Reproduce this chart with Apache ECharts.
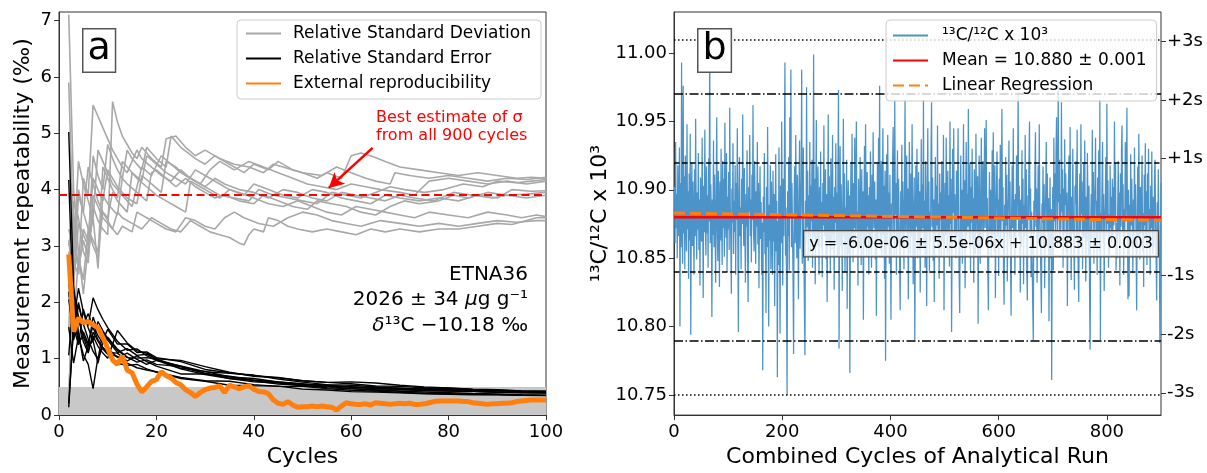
<!DOCTYPE html>
<html><head><meta charset="utf-8">
<script src="https://cdn.jsdelivr.net/npm/echarts@6/dist/echarts.min.js"></script>
<style>html,body{margin:0;padding:0;background:#fff}#chart{width:1207px;height:473px}</style>
</head><body><div id="chart"></div>
<script>
// ---------------- Panel a data ----------------
const X_TICKS_A = [0, 20, 40, 60, 80, 100];
const Y_TICKS_A = [0, 1, 2, 3, 4, 5, 6, 7];
const SIGMA_BEST = 3.9;
const SHADE_TOP = 0.5;
const ARROW_FROM = [64.4, 4.74];
const ARROW_TO = [55.4, 4.03];

const RSD_1 = [[2,7.1],[3,4.0],[4,2.9],[5,2.15],[6,3.0],[7,4.6],[8,4.25],[9,4.0],[10,4.8],[11,4.55],[12,4.35],[13,4.2],[14,4.7],[15,4.55],[17,4.35],[18,4.75],[20,4.55],[22,4.4],[23,4.95],[25,4.75],[28,4.55],[30,4.45],[32,4.6],[35,4.45],[38,4.3],[40,4.45],[43,4.35],[45,4.5],[48,4.35],[50,4.3],[53,4.2],[55,4.3],[58,4.2],[60,4.6],[62,4.65],[64,4.6],[67,4.5],[70,4.4],[74,4.35],[78,4.3],[82,4.25],[86,4.3],[90,4.25],[94,4.2],[97,4.22],[100,4.2]];
const RSD_2 = [[2,5.9],[3,3.0],[4,2.6],[5,3.1],[6,2.8],[7,3.7],[8,3.45],[9,3.3],[10,3.2],[11,5.56],[12,5.2],[13,4.95],[14,4.8],[15,4.65],[16,4.55],[17,4.75],[19,4.55],[21,4.4],[22,4.9],[24,4.95],[26,4.75],[28,4.6],[30,4.7],[33,4.55],[36,4.45],[39,4.4],[42,4.3],[44,4.45],[46,4.4],[50,4.3],[54,4.25],[57,4.4],[60,4.3],[63,4.2],[65,4.15],[68,4.1],[69,4.3],[72,4.25],[76,4.2],[80,4.25],[84,4.2],[88,4.15],[92,4.2],[96,4.18],[100,4.22]];
const RSD_3 = [[2,3.0],[3,3.6],[4,2.5],[5,4.2],[6,3.9],[7,5.5],[8,5.3],[9,5.1],[10,4.9],[11,4.7],[12,4.55],[13,4.4],[14,4.3],[15,4.5],[16,4.7],[17,4.55],[19,4.4],[21,4.25],[23,4.15],[25,4.35],[27,4.2],[29,4.1],[31,4.35],[33,4.5],[36,4.35],[39,4.5],[42,4.4],[45,4.3],[48,4.2],[51,4.1],[54,4.05],[57,4.0],[60,4.1],[63,4.05],[66,4.0],[70,3.95],[73,3.9],[76,4.15],[80,4.2],[84,4.15],[88,4.1],[92,4.15],[96,4.1],[100,4.15]];
const RSD_4 = [[2,0.2],[3,2.8],[4,4.0],[5,3.6],[6,3.3],[7,3.0],[8,2.8],[9,4.4],[10,4.2],[11,4.0],[12,3.85],[13,4.5],[15,4.3],[17,4.15],[18,4.6],[20,4.45],[22,4.3],[24,4.2],[26,4.1],[28,4.35],[30,4.25],[33,4.1],[35,4.0],[38,3.9],[40,4.1],[43,4.0],[46,3.9],[49,3.85],[52,4.0],[55,3.95],[58,3.85],[61,3.8],[64,3.75],[67,3.9],[70,3.85],[74,3.8],[78,3.85],[82,3.8],[86,3.9],[90,3.85],[93,4.0],[97,3.97],[100,3.98]];
const RSD_5 = [[2,3.1],[3,2.3],[4,3.4],[5,3.2],[6,3.0],[7,3.5],[8,2.6],[9,3.9],[10,3.75],[12,3.55],[13,4.2],[14,4.1],[16,3.95],[18,3.8],[19,4.3],[20,4.35],[22,4.2],[24,4.05],[26,4.2],[28,4.05],[30,3.95],[32,3.85],[34,3.9],[37,3.8],[40,3.75],[42,3.9],[45,3.8],[48,3.7],[51,3.65],[53,3.8],[56,3.75],[59,3.7],[62,3.6],[65,3.55],[68,3.7],[71,3.8],[74,3.75],[78,3.8],[81,3.9],[84,3.85],[88,3.95],[92,3.9],[96,3.92],[100,3.95]];
const RSD_6 = [[2,2.2],[3,1.6],[4,2.8],[5,2.4],[6,3.3],[7,3.1],[8,2.9],[9,3.6],[10,3.45],[11,3.3],[12,3.6],[13,3.5],[15,3.4],[17,3.3],[19,3.5],[21,3.4],[23,3.3],[25,3.25],[27,3.45],[29,3.35],[31,3.25],[33,3.2],[35,3.15],[37,3.05],[38,3.02],[39,3.2],[40,3.3],[42,3.25],[43,3.5],[45,3.45],[47,3.35],[49,3.3],[52,3.25],[55,3.3],[58,3.25],[61,3.2],[64,3.3],[67,3.25],[70,3.3],[74,3.25],[78,3.3],[82,3.3],[86,3.35],[90,3.4],[93,3.38],[96,3.45],[98,3.5],[100,3.5]];
const RSD_7 = [[2,1.5],[3,3.8],[4,3.5],[5,2.9],[6,2.7],[7,3.9],[8,3.7],[9,3.5],[10,3.4],[11,3.3],[12,3.2],[13,3.35],[15,3.25],[16,3.6],[18,3.5],[20,3.4],[22,3.3],[24,3.25],[26,3.5],[28,3.45],[30,3.35],[32,3.3],[34,3.5],[36,3.6],[38,3.5],[41,3.4],[44,3.35],[47,3.5],[50,3.6],[53,3.55],[56,3.45],[59,3.4],[62,3.35],[66,3.45],[70,3.4],[74,3.35],[78,3.4],[82,3.35],[86,3.4],[90,3.45],[94,3.42],[98,3.45],[100,3.45]];
const RSD_8 = [[2,2.9],[3,2.4],[4,3.9],[5,3.6],[6,4.4],[7,4.1],[8,3.8],[9,3.6],[10,3.5],[11,3.95],[12,3.8],[14,3.6],[15,4.3],[16,4.2],[18,4.05],[20,3.9],[22,3.8],[24,3.7],[26,3.6],[27,4.15],[29,4.05],[31,3.95],[33,3.85],[35,4.0],[37,3.95],[40,3.85],[43,3.75],[46,3.7],[49,3.8],[52,3.7],[55,3.6],[58,3.55],[61,3.7],[64,3.65],[67,3.6],[70,3.55],[73,3.5],[76,3.6],[80,3.55],[84,3.5],[88,3.6],[92,3.55],[95,3.5],[98,3.55],[100,3.52]];
const RSD_9 = [[2,0.3],[3,2.7],[4,2.5],[5,3.3],[6,3.1],[7,4.2],[8,4.0],[9,3.8],[10,4.35],[11,4.2],[12,4.05],[13,3.95],[14,3.85],[16,3.75],[17,4.25],[19,4.1],[21,3.95],[22,4.5],[24,4.4],[26,4.25],[28,4.15],[30,4.05],[32,4.2],[34,4.1],[37,4.0],[40,3.95],[43,3.85],[46,4.0],[49,3.95],[52,3.85],[55,3.8],[58,3.95],[61,3.9],[64,3.85],[67,3.8],[70,3.9],[73,3.85],[77,3.8],[81,3.95],[85,3.9],[89,3.85],[92,3.9],[96,3.85],[100,3.9]];
const RSD_10 = [[2,3.3],[3,2.9],[4,4.5],[5,4.1],[6,3.8],[7,3.5],[8,4.7],[9,4.5],[10,4.3],[11,4.1],[12,4.0],[13,3.9],[14,3.8],[15,3.7],[17,4.4],[19,4.25],[21,4.6],[23,4.45],[25,4.3],[27,4.2],[29,4.1],[31,4.0],[33,3.9],[36,3.85],[39,3.8],[41,4.0],[44,3.9],[47,3.85],[50,3.8],[53,3.75],[56,3.95],[59,3.9],[62,3.85],[65,3.95],[68,4.05],[71,4.0],[75,3.95],[79,4.0],[83,4.1],[87,4.05],[90,4.15],[94,4.12],[97,4.15],[100,4.18]];

const RSE_CYCLES = [2,3,4,5,6,7,8,9,10,12,14,16,18,20,25,30,35,40,45,50,55,60,65,70,75,80,85,90,95,100];
const RSE_1 = [5.02,2.31,1.45,0.96,1.22,1.74,1.50,1.33,1.52,1.26,1.26,1.11,1.12,1.02,0.95,0.81,0.75,0.70,0.67,0.61,0.58,0.59,0.57,0.53,0.50,0.48,0.46,0.45,0.43,0.42];
const RSE_2 = [4.17,1.73,1.30,1.39,1.14,1.40,1.22,1.10,1.01,1.50,1.28,1.14,1.10,1.00,0.97,0.86,0.76,0.69,0.66,0.61,0.58,0.555,0.515,0.51,0.486,0.475,0.454,0.44,0.43,0.422];
const RSE_3 = [2.12,2.08,1.25,1.88,1.59,2.08,1.87,1.70,1.55,1.31,1.15,1.175,1.055,0.97,0.87,0.77,0.74,0.71,0.64,0.585,0.54,0.53,0.50,0.47,0.47,0.47,0.45,0.434,0.42,0.415];
const RSE_4 = [0.14,1.62,2.0,1.61,1.35,1.13,0.99,1.47,1.33,1.11,1.18,1.06,1.08,0.995,0.83,0.776,0.676,0.648,0.586,0.55,0.533,0.493,0.471,0.46,0.44,0.427,0.42,0.406,0.41,0.398];
const RSE_5 = [2.19,1.33,1.70,1.43,1.22,1.32,0.92,1.30,1.19,1.02,1.10,0.99,0.90,0.97,0.82,0.72,0.65,0.59,0.57,0.52,0.51,0.47,0.44,0.45,0.434,0.43,0.42,0.41,0.40,0.395];
const RSE_6 = [1.56,0.92,1.40,1.07,0.90,0.47,1.03,1.2,1.09,1.04,0.92,0.84,0.80,0.77,0.65,0.60,0.53,0.52,0.514,0.46,0.445,0.416,0.41,0.394,0.376,0.369,0.362,0.358,0.352,0.35];
const RSE_7 = [1.06,2.19,1.75,1.30,1.10,1.47,1.31,1.17,1.08,0.92,0.88,0.90,0.82,0.76,0.67,0.61,0.60,0.54,0.51,0.51,0.47,0.44,0.425,0.406,0.388,0.378,0.367,0.364,0.352,0.345];
const RSE_8 = [2.05,1.39,1.95,1.61,1.80,1.55,1.34,1.2,1.11,1.10,0.96,1.05,0.95,0.87,0.73,0.73,0.68,0.61,0.55,0.53,0.485,0.47,0.45,0.424,0.41,0.397,0.382,0.376,0.36,0.352];
const RSE_9 = [0.21,1.56,1.25,1.48,1.27,1.59,1.41,1.27,1.38,1.17,1.03,0.94,0.98,0.90,0.86,0.74,0.69,0.62,0.59,0.555,0.51,0.505,0.474,0.466,0.44,0.437,0.423,0.408,0.396,0.39];
const RSE_10 = [2.33,1.67,2.25,1.83,1.55,1.32,1.66,1.5,1.36,1.15,1.02,1.01,1.02,0.99,0.86,0.74,0.65,0.62,0.58,0.54,0.52,0.50,0.49,0.48,0.456,0.45,0.44,0.437,0.424,0.418];

const EXT_CYCLES = [2,3,4,5,6,7,8,9,10,11,12,13,14,15,16,17,18,19,20,21,22,23,24,25,26,27,28,29,30,31,32,33,34,35,36,37,38,39,40,41,42,43,44,45,46,47,48,49,50,51,52,53,54,55,56,57,58,59,60,61,62,63,64,65,66,67,68,69,70,71,72,73,74,75,76,77,78,79,80,81,82,83,84,85,86,87,88,89,90,91,92,93,94,95,96,97,98,99,100];
const EXT_VALUES = [2.85,1.48,1.72,1.64,1.66,1.60,1.55,1.38,1.18,0.98,0.90,1.05,0.80,0.75,0.55,0.41,0.50,0.60,0.63,0.77,0.70,0.66,0.58,0.54,0.45,0.40,0.33,0.40,0.45,0.48,0.49,0.52,0.40,0.53,0.50,0.47,0.50,0.52,0.46,0.42,0.41,0.38,0.27,0.21,0.19,0.24,0.18,0.14,0.15,0.15,0.16,0.15,0.16,0.15,0.14,0.09,0.16,0.22,0.20,0.19,0.19,0.20,0.18,0.22,0.21,0.20,0.19,0.20,0.21,0.20,0.21,0.19,0.19,0.20,0.22,0.24,0.25,0.25,0.25,0.25,0.25,0.24,0.24,0.22,0.21,0.20,0.19,0.20,0.20,0.21,0.21,0.22,0.24,0.25,0.26,0.27,0.27,0.27,0.27];

// ---------------- Panel b data ----------------
const X_TICKS_B = [0, 200, 400, 600, 800];
const Y_TICKS_B = [10.75, 10.80, 10.85, 10.90, 10.95, 11.00];
const RATIO_MEAN = 10.880;
const REG_START = 10.883;
const REG_END = 10.8776;
const S_VALUES = [11.0084, 10.9656, 10.9228, 10.8372, 10.7944, 10.7516];
const S_LABELS = ['+3s', '+2s', '+1s', '-1s', '-2s', '-3s'];
const RATIO = [
10.902,10.861,10.935,10.872,10.897,10.850,10.918,10.866,10.889,10.931,10.800,10.905,10.858,10.993,10.874,10.846,10.976,10.868,10.910,10.842,10.925,10.884,10.855,10.948,10.871,10.899,10.835,10.912,10.863,10.941,
10.794,10.887,10.920,10.859,10.906,10.874,10.838,10.915,10.866,10.952,10.881,10.849,10.898,10.871,10.927,10.856,10.893,10.830,10.909,10.878,10.862,10.938,10.884,10.821,10.903,10.869,10.944,10.875,10.852,10.917,
10.868,10.896,10.843,10.923,10.877,11.015,10.861,10.904,10.882,10.807,10.893,10.867,10.936,10.858,10.911,10.874,10.832,10.899,10.953,10.870,10.848,10.914,10.886,10.829,10.906,10.863,10.930,10.879,10.845,10.921,
10.872,10.908,10.851,10.949,10.883,10.865,10.927,10.840,10.895,10.871,10.913,10.856,10.960,10.889,10.862,10.824,10.901,10.876,10.934,10.853,10.892,10.869,10.918,10.838,10.905,10.878,10.945,10.860,10.796,10.897,
10.924,10.866,10.887,10.842,10.908,10.875,10.955,10.881,10.859,10.916,10.868,10.832,10.897,10.873,10.929,10.851,10.818,10.902,10.884,10.940,10.866,10.893,10.847,10.911,10.878,10.962,10.870,10.855,10.921,10.883,
10.846,10.899,10.873,10.935,10.860,10.905,10.828,10.882,10.917,10.864,10.891,10.838,10.876,10.768,10.895,10.869,10.927,10.853,10.880,10.810,10.902,10.858,10.946,10.874,10.800,10.889,10.863,10.918,10.842,10.906,
10.871,10.838,10.914,10.862,10.897,10.815,10.880,10.926,10.855,10.892,10.763,10.877,10.845,10.931,10.869,10.795,10.903,10.861,10.950,10.874,10.830,10.908,10.866,10.921,10.993,10.852,10.887,10.823,10.750,10.899,
10.866,10.924,10.841,10.953,10.879,10.988,10.858,10.905,10.872,10.834,10.780,10.893,10.917,10.861,10.940,10.878,10.850,10.911,10.868,10.820,10.897,10.936,10.857,10.884,10.909,10.988,10.846,10.875,10.931,10.855,
10.815,10.779,10.892,10.861,10.975,10.873,10.914,10.848,10.896,10.867,10.935,10.854,10.903,10.877,10.922,10.843,10.889,10.999,10.866,10.908,10.831,10.894,10.951,10.870,10.859,10.917,10.880,10.838,10.902,10.871,
10.928,10.858,10.891,10.836,10.905,10.874,10.947,10.866,10.883,10.915,10.849,10.897,10.818,10.878,10.955,10.862,10.910,10.871,10.839,10.923,10.884,10.856,10.940,10.867,10.895,10.827,10.902,10.876,10.934,10.860,
10.898,10.851,10.917,10.973,10.784,10.881,10.932,10.859,10.904,10.871,10.826,10.893,10.952,10.866,10.912,10.840,10.887,10.864,10.922,10.813,10.885,10.907,10.853,10.896,10.766,10.874,10.919,10.862,10.941,10.879,
10.847,10.905,10.872,10.938,10.861,10.893,10.950,10.869,10.884,10.830,10.908,10.876,10.857,10.924,10.890,10.845,10.915,10.868,10.899,10.805,10.878,10.932,10.861,10.948,10.883,10.852,10.913,10.873,10.896,10.838,
10.902,10.866,10.928,10.877,10.843,10.911,10.860,10.942,10.885,10.872,10.906,10.849,10.893,10.808,10.881,10.919,10.864,10.938,10.870,10.976,10.856,10.897,10.921,10.851,10.887,10.945,10.867,10.903,10.835,10.914,
10.775,10.884,10.926,10.859,10.940,10.873,10.898,10.846,10.911,10.868,10.805,10.890,10.863,10.922,10.946,10.876,10.851,10.966,10.882,10.905,10.838,10.894,10.929,10.861,10.908,10.877,10.845,10.812,10.899,10.870,
10.933,10.865,10.906,10.879,10.842,10.897,10.966,10.869,10.888,10.925,10.858,10.901,10.820,10.874,10.935,10.884,10.853,10.912,10.866,10.948,10.892,10.831,10.877,10.909,10.790,10.862,10.918,10.873,10.930,10.850,
10.887,10.913,10.856,10.899,10.825,10.880,10.937,10.868,10.904,10.872,10.966,10.859,10.892,10.843,10.921,10.878,10.815,10.896,10.945,10.870,10.906,10.839,10.884,10.862,10.928,10.964,10.873,10.909,10.848,10.893,
10.818,10.881,10.924,10.866,10.903,10.874,10.947,10.859,10.890,10.835,10.912,10.878,10.898,10.852,10.921,10.883,10.862,10.940,10.812,10.877,10.905,10.867,10.938,10.887,10.853,10.914,10.871,10.896,10.844,10.950,
10.875,10.908,10.796,10.868,10.930,10.883,10.945,10.861,10.897,10.879,10.850,10.914,10.866,10.904,10.945,10.872,10.838,10.810,10.890,10.925,10.863,10.900,10.846,10.882,10.948,10.869,10.907,10.828,10.893,10.935,
10.866,10.897,10.873,10.959,10.884,10.859,10.920,10.840,10.902,10.876,10.930,10.861,10.894,10.832,10.915,10.879,10.853,10.941,10.888,10.868,10.910,10.802,10.881,10.925,10.872,10.846,10.903,10.938,10.864,10.897,
10.921,10.863,10.888,10.945,10.872,10.905,10.951,10.858,10.894,10.840,10.812,10.883,10.913,10.869,10.900,10.852,10.876,10.929,10.867,10.942,10.891,10.855,10.918,10.821,10.879,10.904,10.928,10.866,10.893,10.837,
10.908,10.871,10.933,10.862,10.895,10.959,10.877,10.902,10.842,10.816,10.889,10.868,10.924,10.874,10.911,10.833,10.881,10.897,10.936,10.864,10.906,10.844,10.808,10.885,10.918,10.872,10.945,10.859,10.893,10.838,
10.897,10.862,10.925,10.878,10.910,10.971,10.866,10.903,10.884,10.825,10.893,10.858,10.929,10.875,10.908,10.831,10.889,10.866,10.940,10.872,10.915,10.843,10.819,10.896,10.880,10.922,10.950,10.868,10.901,10.836,
10.884,10.846,10.815,10.790,10.892,10.868,10.911,10.942,10.873,10.901,10.832,10.879,10.918,10.861,10.948,10.887,10.866,10.835,10.810,10.890,10.876,10.917,10.858,10.904,10.828,10.881,10.899,10.935,10.870,10.912,
10.857,10.894,10.804,10.873,10.909,10.850,10.886,10.761,10.869,10.902,10.841,10.938,10.877,10.912,10.866,10.928,10.953,10.880,10.859,10.980,10.891,10.922,10.858,10.897,10.871,10.964,10.884,10.915,10.843,10.901,
10.867,10.937,10.889,10.912,10.855,10.898,10.815,10.876,10.906,10.925,10.862,10.946,10.874,10.834,10.895,10.868,10.930,10.881,10.861,10.827,10.903,10.890,10.921,10.866,10.944,10.873,10.841,10.818,10.887,10.912,
10.869,10.948,10.882,10.906,10.842,10.876,10.919,10.865,10.936,10.878,10.833,10.895,10.862,10.927,10.889,10.851,10.903,10.824,10.783,10.871,10.897,10.864,10.944,10.877,10.913,10.846,10.888,10.905,10.938,10.860,
10.892,10.838,10.909,10.870,10.929,10.855,10.966,10.790,10.883,10.868,10.904,10.935,10.861,10.897,10.826,10.878,10.890,10.924,10.866,10.963,10.875,10.907,10.843,10.882,10.853,10.918,10.872,10.895,10.861,10.908,
10.867,10.902,10.874,10.950,10.881,10.919,10.841,10.876,10.850,10.887,10.921,10.866,10.898,10.830,10.912,10.873,10.929,10.947,10.869,10.904,10.838,10.886,10.863,10.935,10.878,10.896,10.960,10.871,10.820,10.900,
10.822,10.889,10.861,10.926,10.874,10.908,10.872,10.839,10.893,10.867,10.931,10.880,10.904,10.858,10.812,10.876,10.917,10.866,10.941,10.885,10.849,10.902,10.869,10.892,10.925,10.855,10.883,10.829,10.911,10.874,
10.934,10.866,10.899,10.845,10.912,10.877,10.930,10.861,10.886,10.838,10.903,10.872,10.928,10.869,10.853,10.895,10.858,10.910,10.922,10.876,10.849,10.819,10.891,10.862,10.915,10.879,10.854,10.788,10.841,10.905
];

// ---------------- Text ----------------
const NAME_RSD = 'Relative Standard Deviation';
const NAME_RSE = 'Relative Standard Error';
const NAME_EXT = 'External reproducibility';
const NAME_RATIO = '\u00b9\u00b3C/\u00b9\u00b2C x 10\u00b3';
const NAME_MEAN = 'Mean = 10.880 \u00b1 0.001';
const NAME_REG = 'Linear Regression';
const REG_TEXT = 'y = -6.0e-06 \u00b1 5.5e-06x + 10.883 \u00b1 0.003';
const INFO_LINES = ['ETNA36', '2026 \u00b1 34 {i|\u03bc}g g\u207b\u00b9', '{i|\u03b4}\u00b9\u00b3C \u221210.18 \u2030'];

const FONT = 'DejaVu Sans';
const chart = echarts.init(document.getElementById('chart'), null, {renderer: 'canvas'});

const RSD_ALL = [RSD_1, RSD_2, RSD_3, RSD_4, RSD_5, RSD_6, RSD_7, RSD_8, RSD_9, RSD_10];
const RSE_ALL = [RSE_1, RSE_2, RSE_3, RSE_4, RSE_5, RSE_6, RSE_7, RSE_8, RSE_9, RSE_10];

const series = [];
series.push({
  type: 'line', xAxisIndex: 0, yAxisIndex: 0, data: [], z: 1, silent: true, symbol: 'none',
  markArea: {silent: true, itemStyle: {color: '#c8c8c8'},
    data: [[{coord: [X_TICKS_A[0], 0]}, {coord: [X_TICKS_A[X_TICKS_A.length - 1], SHADE_TOP]}]]}
});
RSD_ALL.forEach(d => series.push({
  name: NAME_RSD, type: 'line', xAxisIndex: 0, yAxisIndex: 0, data: d, symbol: 'none', z: 2,
  lineStyle: {color: '#a8a8a8', width: 1.6}, itemStyle: {color: '#a8a8a8'}
}));
RSE_ALL.forEach(d => series.push({
  name: NAME_RSE, type: 'line', xAxisIndex: 0, yAxisIndex: 0,
  data: RSE_CYCLES.map((c, i) => [c, d[i]]), symbol: 'none', z: 3,
  lineStyle: {color: '#000000', width: 1.4}, itemStyle: {color: '#000000'}
}));
series.push({
  name: NAME_EXT, type: 'line', xAxisIndex: 0, yAxisIndex: 0,
  data: EXT_CYCLES.map((c, i) => [c, EXT_VALUES[i]]), symbol: 'none', z: 4,
  lineStyle: {color: '#ff7f0e', width: 5}, itemStyle: {color: '#ff7f0e'}
});
series.push({
  type: 'line', xAxisIndex: 0, yAxisIndex: 0, data: [], z: 5, silent: true, symbol: 'none',
  markLine: {silent: true, symbol: 'none', label: {show: false},
    data: [
      {yAxis: SIGMA_BEST, lineStyle: {color: '#ff0000', width: 2, type: [8, 4.5]}},
      [{coord: ARROW_FROM, symbol: 'none'}, {coord: ARROW_TO, symbol: 'arrow', symbolSize: [12, 15],
        lineStyle: {color: '#ff0000', width: 2.5, type: 'solid'}}]
    ]}
});

// Panel b
series.push({
  name: NAME_RATIO, type: 'line', xAxisIndex: 1, yAxisIndex: 1,
  data: RATIO.map((v, i) => [i + 1, v]), symbol: 'none', z: 2,
  lineStyle: {color: '#4b93c8', width: 1.25}, itemStyle: {color: '#4b93c8'}
});
series.push({
  type: 'line', xAxisIndex: 1, yAxisIndex: 1, data: [], z: 3, silent: true, symbol: 'none',
  markLine: {silent: true, symbol: 'none', label: {show: false},
    data: S_VALUES.map((v, i) => {
      const k = Math.abs(parseInt(S_LABELS[i], 10));
      const t = k === 3 ? [1.5, 2.5] : (k === 2 ? [9, 2.5, 1.5, 2.5] : [5.5, 2.5]);
      return {yAxis: v, lineStyle: {color: '#000', width: 1.5, type: t}};
    })}
});
series.push({
  name: NAME_MEAN, type: 'line', xAxisIndex: 1, yAxisIndex: 1,
  data: [[0, RATIO_MEAN], [900, RATIO_MEAN]], symbol: 'none', z: 4,
  lineStyle: {color: '#ff0000', width: 2.5}, itemStyle: {color: '#ff0000'}
});
series.push({
  name: NAME_REG, type: 'line', xAxisIndex: 1, yAxisIndex: 1,
  data: [[0, REG_START], [900, REG_END]], symbol: 'none', z: 5,
  lineStyle: {color: '#ff7f0e', width: 3, type: [11, 5]}, itemStyle: {color: '#ff7f0e'}
});

const axisCommon = {
  axisLine: {show: true, lineStyle: {color: '#333', width: 1}},
  axisTick: {show: true, length: 5, lineStyle: {color: '#333', width: 1}},
  splitLine: {show: false},
  axisLabel: {fontFamily: FONT, fontSize: 18, color: '#000', margin: 7}
};

const legendCommon = {
  orient: 'vertical', selectedMode: false, z: 20,
  itemWidth: 35, itemHeight: 14, itemGap: 8,
  itemStyle: {opacity: 0, borderWidth: 0},
  backgroundColor: 'rgba(255,255,255,0.8)', borderColor: '#cccccc', borderWidth: 1, borderRadius: 4,
  textStyle: {fontFamily: FONT, fontSize: 17, color: '#000', lineHeight: 17}
};

const graphics = [
  {type: 'text', left: 82, top: 28, z: 100, style: {text: 'a', font: '38px "DejaVu Sans"', fill: '#000',
    backgroundColor: '#fff', borderColor: '#555', borderWidth: 1.5, padding: [1, 4, 3, 4], lineHeight: 38}},
  {type: 'text', left: 697, top: 28, z: 100, style: {text: 'b', font: '38px "DejaVu Sans"', fill: '#000',
    backgroundColor: '#fff', borderColor: '#555', borderWidth: 1.5, padding: [1, 4, 3, 4], lineHeight: 38}},
  {type: 'text', left: 376, top: 109, z: 100, style: {text: 'Best estimate of \u03c3\nfrom all 900 cycles',
    font: '16px "DejaVu Sans"', fill: '#ff0000', lineHeight: 18}},
  {type: 'text', left: 803, top: 230, z: 100, style: {text: REG_TEXT, font: '16px "DejaVu Sans"', fill: '#000',
    backgroundColor: 'rgba(255,255,255,0.8)', borderColor: '#444', borderWidth: 1.2, padding: [4, 5, 4, 5], lineHeight: 17}}
];
INFO_LINES.forEach((t, i) => graphics.push({
  type: 'text', right: 679, top: 262 + i * 25.5, z: 100,
  style: {text: t, font: '20px "DejaVu Sans"', fill: '#000', lineHeight: 25,
    rich: {i: {fontStyle: 'italic', fontSize: 20, fontFamily: FONT, lineHeight: 25}}}
}));

chart.setOption({
  animation: false,
  backgroundColor: '#ffffff',
  grid: [
    {left: 59, top: 12, width: 487, height: 404, show: true, borderColor: '#333', borderWidth: 1, backgroundColor: 'transparent'},
    {left: 674, top: 12, width: 487, height: 404, show: true, borderColor: '#333', borderWidth: 1, backgroundColor: 'transparent'}
  ],
  xAxis: [
    Object.assign({}, axisCommon, {
      type: 'value', gridIndex: 0, min: 0, max: 100,
      axisTick: Object.assign({}, axisCommon.axisTick, {customValues: X_TICKS_A}),
      axisLabel: Object.assign({}, axisCommon.axisLabel, {customValues: X_TICKS_A, margin: 8}),
      name: 'Cycles', nameLocation: 'middle', nameGap: 27,
      nameTextStyle: {fontFamily: FONT, fontSize: 22, color: '#000'}
    }),
    Object.assign({}, axisCommon, {
      type: 'value', gridIndex: 1, min: 0, max: 900,
      axisTick: Object.assign({}, axisCommon.axisTick, {customValues: X_TICKS_B}),
      axisLabel: Object.assign({}, axisCommon.axisLabel, {customValues: X_TICKS_B, margin: 8}),
      name: 'Combined Cycles of Analytical Run', nameLocation: 'middle', nameGap: 27,
      nameTextStyle: {fontFamily: FONT, fontSize: 22, color: '#000'}
    })
  ],
  yAxis: [
    Object.assign({}, axisCommon, {
      type: 'value', gridIndex: 0, min: 0, max: 7.15,
      axisTick: Object.assign({}, axisCommon.axisTick, {customValues: Y_TICKS_A}),
      axisLabel: Object.assign({}, axisCommon.axisLabel, {customValues: Y_TICKS_A}),
      name: 'Measurement repeatability (\u2030)', nameLocation: 'middle', nameGap: 25,
      nameTextStyle: {fontFamily: FONT, fontSize: 22, color: '#000'}
    }),
    Object.assign({}, axisCommon, {
      type: 'value', gridIndex: 1, min: 10.7353, max: 11.030,
      axisTick: Object.assign({}, axisCommon.axisTick, {customValues: Y_TICKS_B}),
      axisLabel: Object.assign({}, axisCommon.axisLabel, {customValues: Y_TICKS_B, formatter: v => v.toFixed(2)}),
      name: NAME_RATIO, nameLocation: 'middle', nameGap: 62,
      nameTextStyle: {fontFamily: FONT, fontSize: 22, color: '#000'}
    }),
    Object.assign({}, axisCommon, {
      type: 'value', gridIndex: 1, min: 10.7353, max: 11.030, position: 'right',
      axisLine: {show: false},
      axisTick: Object.assign({}, axisCommon.axisTick, {customValues: S_VALUES}),
      axisLabel: Object.assign({}, axisCommon.axisLabel, {customValues: S_VALUES, margin: 6,
        formatter: v => {
          let best = 0;
          S_VALUES.forEach((s, i) => { if (Math.abs(s - v) < Math.abs(S_VALUES[best] - v)) best = i; });
          return S_LABELS[best];
        }})
    })
  ],
  legend: [
    Object.assign({}, legendCommon, {
      left: 237, top: 20, padding: [5, 10, 7, 8],
      data: [NAME_RSD, NAME_RSE, NAME_EXT],
      textStyle: Object.assign({}, legendCommon.textStyle, {padding: [0, 0, 0, 7]})
    }),
    Object.assign({}, legendCommon, {
      left: 886, top: 20, padding: [7, 10, 7, 6],
      data: [NAME_RATIO, NAME_MEAN, NAME_REG],
      textStyle: Object.assign({}, legendCommon.textStyle, {padding: [0, 0, 0, 9]})
    })
  ],
  graphic: graphics,
  series: series
});
</script></body></html>
